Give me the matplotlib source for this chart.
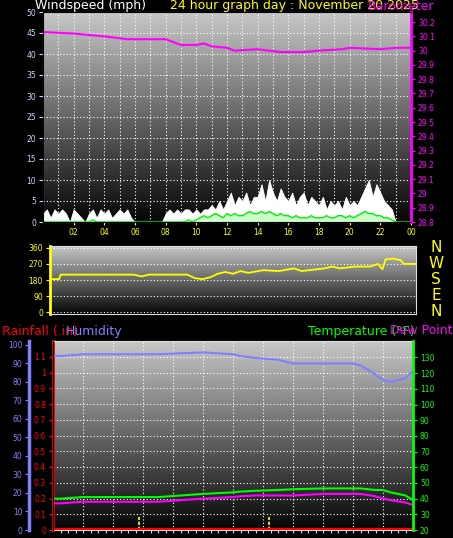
import numpy as np
import matplotlib
matplotlib.use("Agg")
import matplotlib.pyplot as plt

# ---- data ----
hours_ticks = [2, 4, 6, 8, 10, 12, 14, 16, 18, 20, 22, 24]
hour_labels = ["02", "04", "06", "08", "10", "12", "14", "16", "18", "20", "22", "00"]

# 15-minute wind samples (0..24 h)
gust = [2, 3, 1, 3, 2, 3, 2, 0, 3, 2, 1, 0, 2, 3, 1, 3,
        2, 3, 1, 2, 3, 2, 3, 1, 0, 0, 0, 0, 0, 0, 0, 0,
        2, 3, 2, 3, 2, 3, 3, 2, 3, 2, 3, 3, 4, 3, 5, 3,
        5, 7, 4, 6, 5, 7, 4, 6, 6, 9, 5, 10, 7, 5, 8, 6,
        5, 7, 4, 6, 7, 4, 6, 5, 4, 6, 3, 5, 4, 5, 3, 6,
        4, 5, 4, 6, 8, 10, 6, 9, 7, 5, 4, 3, 0, 0, 0, 0, 0]
avg = [0, 0, 0, 0, 0, 0, 0, 0, 0, 0, 0, 0, 0, 0.5, 0, 0,
       0, 0, 0, 0, 0, 0, 0, 0, 0, 0, 0, 0, 0, 0, 0, 0,
       0, 0, 0, 0, 0, 0, 0.5, 0, 0.5, 1, 1.5, 1, 1.5, 2, 1.5, 1,
       2, 1.5, 2, 1.5, 1.5, 2, 2.5, 2, 2, 2.5, 2, 2.5, 2, 1.5, 2, 1.5,
       1.5, 1, 1.5, 1, 1, 1, 1.5, 1, 1, 1, 1.5, 1, 1, 1.5, 1.5, 1,
       1.5, 1, 1.5, 2, 2.5, 2, 2, 1.5, 1.5, 1, 1, 0.5, 0, 0, 0, 0, 0]
wind_t = [i * 0.25 for i in range(len(gust))]

press_t = [0, 2, 3, 4, 5.5, 6, 8, 8.5, 9, 10, 10.5, 11, 12, 12.5, 14, 15.5, 17, 18, 19.5, 20, 22, 23, 24]
pressure = [30.13, 30.12, 30.11, 30.10, 30.08, 30.08, 30.08, 30.06, 30.04, 30.04, 30.05, 30.03,
            30.02, 30.00, 30.01, 29.99, 29.99, 30.00, 30.01, 30.02, 30.01, 30.02, 30.02]

dir_t = [0, 0.6, 0.7, 5.5, 6, 6.5, 9, 9.5, 10, 10.5, 11, 11.5, 12, 12.5, 13, 14, 15, 16, 16.5, 17,
         18, 18.5, 19, 20, 21, 21.5, 21.8, 22, 22.5, 23, 23.2, 24]
direction = [185, 185, 210, 210, 200, 210, 210, 190, 185, 195, 215, 225, 215, 230, 220, 235, 230,
             245, 230, 235, 245, 255, 245, 255, 255, 270, 240, 295, 300, 290, 270, 270]

ht_t = [0, 0.5, 2, 4, 7, 10, 12, 12.5, 13.5, 15, 16, 18, 20, 20.5, 21.5, 22, 22.5, 23.5, 24]
humidity = [94, 94, 95, 95, 95, 96, 95, 94, 93, 92, 90, 90, 90, 89, 84, 81, 80, 82, 86]
temperature = [40, 40, 41, 41, 41, 43, 44, 44.5, 45, 45.5, 46, 46.5, 46.5, 46.5, 45.5, 45.5, 44, 42, 39]
dewpoint = [37, 37, 38, 38, 38, 40, 41, 41.5, 42, 42, 42, 43, 43, 43, 41.5, 40, 39, 37.5, 36]

rain_t = [0, 24]
rain = [0, 0]
dir_labels = ["0", "90", "180", "270", "360"]

W, H = 453, 538
fig = plt.figure(figsize=(W / 100, H / 100), dpi=100, facecolor="black")

def pax(x0, y0, x1, y1):
    return fig.add_axes([x0 / W, 1 - y1 / H, (x1 - x0) / W, (y1 - y0) / H])

def grad(ax):
    g = np.linspace(0.78, 0.02, 256).reshape(-1, 1)
    ax.imshow(g, cmap="gray", vmin=0, vmax=1, aspect="auto",
              extent=[0, 1, 0, 1], transform=ax.transAxes, zorder=0)

def dgrid(ax, xs, ys):
    for x in xs:
        ax.axvline(x, color="white", ls=(0, (1, 2)), lw=0.8, zorder=1)
    for y in ys:
        ax.axhline(y, color="white", ls=(0, (1, 2)), lw=0.8, zorder=1)

fs = 5.5
# ---- top panel ----
ax1 = pax(43, 12, 411, 222)
grad(ax1)
ax1.set_xlim(0, 24)
ax1.set_ylim(0, 50)
dgrid(ax1, range(1, 24), range(5, 50, 5))
ax1.fill_between(wind_t, gust, color="white", lw=0.6, edgecolor="white", zorder=2)
ax1.fill_between(wind_t, avg, color="#ccffcc", lw=0, zorder=3)
ax1.plot(wind_t, avg, color="#00ee00", lw=1, zorder=4)
ax1.set_yticks(range(0, 51, 5))
ax1.set_xticks(hours_ticks)
ax1.set_xticklabels(hour_labels)
ax1.tick_params(axis="y", colors="#cfd8ff", labelsize=fs, length=3, pad=2)
ax1.tick_params(axis="x", colors="#ffff00", labelsize=fs, length=2, pad=2)
for s in ax1.spines.values():
    s.set_color("#dddddd")
ax1r = ax1.twinx()
ax1r.set_ylim(28.8, 28.8 + 50 * 0.1 / 3.4)
ax1r.plot(press_t, pressure, color="#ff00ff", lw=1.5)
pt = np.round(np.arange(28.8, 30.21, 0.1), 1)
ax1r.set_yticks(pt)
ax1r.set_yticklabels([("%g" % v) for v in pt])
ax1r.tick_params(axis="y", colors="#ff00ff", labelsize=fs, length=3, pad=2)
ax1r.spines["right"].set_color("#ff00ff")
ax1r.spines["right"].set_linewidth(2)

fig.text(35 / W, 1 - 6 / H, "Windspeed (mph)", color="white", fontsize=9, va="center")
fig.text(170 / W, 1 - 6 / H, "24 hour graph day : November 20 2025", color="#ffff00", fontsize=9, va="center")
fig.text(368 / W, 1 - 6 / H, "Barometer", color="#ff00ff", fontsize=9, va="center")

# ---- middle panel ----
ax2 = pax(50, 246, 416, 314)
grad(ax2)
ax2.set_xlim(0, 24)
ax2.set_ylim(-10, 370)
ax2.plot(dir_t, direction, color="#ffff00", lw=1.3, zorder=3)
ax2.set_yticks([0, 90, 180, 270, 360])
ax2.set_yticklabels(dir_labels)
ax2.set_xticks([])
ax2.tick_params(axis="y", colors="#ffff00", labelsize=fs, length=3, pad=2)
dgrid(ax2, [], [0, 90, 180, 270, 360])
for s in ax2.spines.values():
    s.set_color("#dddddd")
ax2.spines["left"].set_color("#ffff00")
ax2.spines["left"].set_linewidth(2)
for i, ch in enumerate("NWSEN"):
    fig.text(436 / W, 1 - (248 + i * 16) / H, ch, color="#ffff00", fontsize=11, ha="center", va="center")

# ---- bottom panel ----
fig.text(2 / W, 1 - 331 / H, "Rainfall (.in)", color="#ff0000", fontsize=9, va="center")
fig.text(66 / W, 1 - 331 / H, "Humidity", color="#8080ff", fontsize=9, va="center")
fig.text(308 / W, 1 - 331 / H, "Temperature (°F)", color="#00ff00", fontsize=9, va="center")
fig.text(390 / W, 1 - 331 / H, "Dew Point", color="#ff00ff", fontsize=9, va="center")

ax3 = pax(53, 341, 413, 530)
grad(ax3)
ax3.set_xlim(0, 24)
ax3.set_ylim(0, 1.2)
dgrid(ax3, range(2, 24, 2), np.arange(0.1, 1.2, 0.1))
ax3.plot(rain_t, rain, color="#ff0000", lw=3, zorder=5)
for hx in [5.7, 14.4]:
    ax3.plot([hx, hx], [0, 0.08], color="#ffff00", ls=(0, (2, 1)), lw=1.2, zorder=4)
rt = np.round(np.arange(0, 1.11, 0.1), 1)
ax3.set_yticks(rt)
ax3.set_yticklabels(["%g" % v for v in rt])
ax3.tick_params(axis="y", colors="#ff0000", labelsize=fs, length=3, pad=2)
ax3.set_xticks(np.arange(0.5, 24, 0.5))
ax3.set_xticklabels([])
ax3.tick_params(axis="x", colors="#dddddd", length=2)
for s in ax3.spines.values():
    s.set_color("#dddddd")
ax3.spines["left"].set_color("#ff0000")
ax3.spines["left"].set_linewidth(2)

axh = ax3.twinx()
axh.set_ylim(0, 100 * 190 / 186)
axh.plot(ht_t, humidity, color="#8080ff", lw=1.5)
axh.yaxis.set_ticks_position("left")
axh.yaxis.set_label_position("left")
axh.spines["left"].set_position(("outward", 17))
axh.spines["left"].set_visible(True)
axh.spines["left"].set_color("#8080ff")
axh.spines["left"].set_linewidth(2.5)
axh.spines["right"].set_visible(False)
axh.set_yticks(range(0, 101, 10))
axh.tick_params(axis="y", colors="#8080ff", labelsize=fs, length=3, pad=2)

axt = ax3.twinx()
axt.set_ylim(20, 140.5)
axt.plot(ht_t, temperature, color="#00ff00", lw=1.5)
axt.plot(ht_t, dewpoint, color="#ff00ff", lw=1.5)
axt.set_yticks(range(20, 131, 10))
axt.tick_params(axis="y", colors="#00ff00", labelsize=fs, length=3, pad=2)
axt.spines["right"].set_color("#00ff00")
axt.spines["right"].set_linewidth(2)
for a in (axh, axt):
    a.spines["top"].set_visible(False)
    a.spines["bottom"].set_visible(False)

fig.savefig("out.png", dpi=100, facecolor="black")
